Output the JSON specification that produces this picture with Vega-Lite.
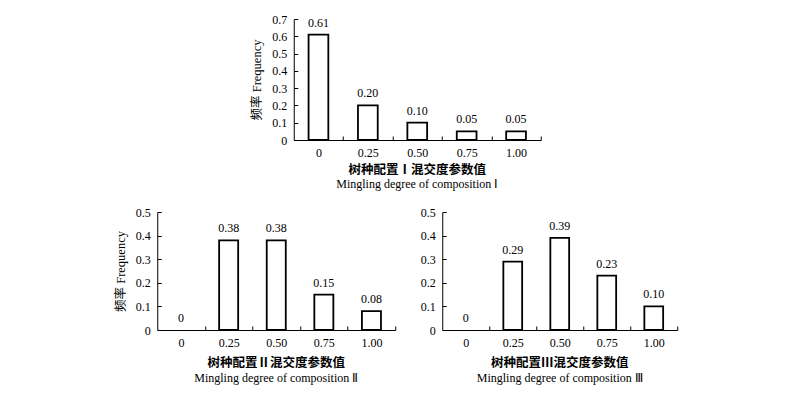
{
  "$schema": "https://vega.github.io/schema/vega-lite/v6.json",
  "background": "white",
  "padding": {"left": 114, "top": 13, "right": 5, "bottom": 5},
  "config": {
    "font": "Liberation Serif",
    "view": {"stroke": null},
    "axis": {"domainColor": "black", "tickColor": "black", "labelColor": "black", "titleColor": "black", "labelFont": "Liberation Serif", "labelFontSize": 12, "tickSize": -4, "grid": false, "labelPadding": 11, "domainWidth": 1, "tickWidth": 1},
    "title": {"orient": "bottom", "anchor": "middle", "font": "Noto Sans CJK SC", "fontSize": 12.5, "fontWeight": "bold", "color": "black", "subtitleFont": "Liberation Serif", "subtitleFontSize": 12, "subtitleColor": "black", "subtitlePadding": 2, "offset": 6}
  },
  "datasets": {
    "p1": [
      {"degree": "0", "freq": 0.61, "lab": "0.61"},
      {"degree": "0.25", "freq": 0.20, "lab": "0.20"},
      {"degree": "0.50", "freq": 0.10, "lab": "0.10"},
      {"degree": "0.75", "freq": 0.05, "lab": "0.05"},
      {"degree": "1.00", "freq": 0.05, "lab": "0.05"}
    ],
    "p2": [
      {"degree": "0", "freq": 0, "lab": "0"},
      {"degree": "0.25", "freq": 0.38, "lab": "0.38"},
      {"degree": "0.50", "freq": 0.38, "lab": "0.38"},
      {"degree": "0.75", "freq": 0.15, "lab": "0.15"},
      {"degree": "1.00", "freq": 0.08, "lab": "0.08"}
    ],
    "p3": [
      {"degree": "0", "freq": 0, "lab": "0"},
      {"degree": "0.25", "freq": 0.29, "lab": "0.29"},
      {"degree": "0.50", "freq": 0.39, "lab": "0.39"},
      {"degree": "0.75", "freq": 0.23, "lab": "0.23"},
      {"degree": "1.00", "freq": 0.10, "lab": "0.10"}
    ]
  },
  "spacing": 16,
  "bounds": "full",
  "center": true,
  "vconcat": [
    {
      "width": 247, "height": 121,
      "data": {"name": "p1"},
      "title": {"text": "树种配置Ⅰ混交度参数值", "subtitle": "Mingling degree of composition  Ⅰ"},
      "encoding": {
        "x": {"field": "degree", "type": "ordinal", "sort": null, "scale": {"domain": ["0", "0.25", "0.50", "0.75", "1.00"], "paddingInner": 0.6, "paddingOuter": 0.3}, "axis": {"title": null, "labelAngle": 0, "tickOffset": 24.7, "labelOffset": -24.7}},
        "y": {"field": "freq", "type": "quantitative", "scale": {"domain": [0, 0.7], "nice": false}, "axis": {"values": [0, 0.1, 0.2, 0.3, 0.4, 0.5, 0.6, 0.7], "labelExpr": "datum.value == 0 ? '0' : format(datum.value, '.1f')", "title": "频率 Frequency", "titleFont": "Liberation Serif, Noto Sans CJK SC", "titleFontSize": 12.5, "titleFontWeight": "normal", "titlePadding": 8}}
      },
      "layer": [
        {"transform": [{"filter": "datum.freq > 0"}], "mark": {"type": "bar", "fill": "white", "stroke": "black", "strokeWidth": 1.8}},
        {"mark": {"type": "text", "baseline": "bottom", "dy": -5, "fontSize": 12, "font": "Liberation Serif", "fill": "black"}, "encoding": {"text": {"field": "lab"}}}
      ]
    },
    {
      "hconcat": [
        {
          "width": 238, "height": 118,
          "data": {"name": "p2"},
          "title": {"text": "树种配置Ⅱ混交度参数值", "subtitle": "Mingling degree of composition  Ⅱ", "offset": 9, "subtitlePadding": 3},
          "encoding": {
            "x": {"field": "degree", "type": "ordinal", "sort": null, "scale": {"domain": ["0", "0.25", "0.50", "0.75", "1.00"], "paddingInner": 0.6, "paddingOuter": 0.3}, "axis": {"title": null, "labelAngle": 0, "tickOffset": 23.8, "labelOffset": -23.8}},
            "y": {"field": "freq", "type": "quantitative", "scale": {"domain": [0, 0.5], "nice": false}, "axis": {"values": [0, 0.1, 0.2, 0.3, 0.4, 0.5], "labelExpr": "datum.value == 0 ? '0' : format(datum.value, '.1f')", "title": "频率 Frequency", "titleFont": "Liberation Serif, Noto Sans CJK SC", "titleFontSize": 12.5, "titleFontWeight": "normal", "titlePadding": 8}}
          },
          "layer": [
            {"transform": [{"filter": "datum.freq > 0"}], "mark": {"type": "bar", "fill": "white", "stroke": "black", "strokeWidth": 1.8}},
            {"mark": {"type": "text", "baseline": "bottom", "dy": -5, "fontSize": 12, "font": "Liberation Serif", "fill": "black"}, "encoding": {"text": {"field": "lab"}}}
          ]
        },
        {
          "width": 235, "height": 118,
          "data": {"name": "p3"},
          "title": {"text": "树种配置Ⅲ混交度参数值", "subtitle": "Mingling degree of composition  Ⅲ", "offset": 9, "subtitlePadding": 3},
          "encoding": {
            "x": {"field": "degree", "type": "ordinal", "sort": null, "scale": {"domain": ["0", "0.25", "0.50", "0.75", "1.00"], "paddingInner": 0.6, "paddingOuter": 0.3}, "axis": {"title": null, "labelAngle": 0, "tickOffset": 23.5, "labelOffset": -23.5}},
            "y": {"field": "freq", "type": "quantitative", "scale": {"domain": [0, 0.5], "nice": false}, "axis": {"values": [0, 0.1, 0.2, 0.3, 0.4, 0.5], "labelExpr": "datum.value == 0 ? '0' : format(datum.value, '.1f')", "title": null}}
          },
          "layer": [
            {"transform": [{"filter": "datum.freq > 0"}], "mark": {"type": "bar", "fill": "white", "stroke": "black", "strokeWidth": 1.8}},
            {"mark": {"type": "text", "baseline": "bottom", "dy": -5, "fontSize": 12, "font": "Liberation Serif", "fill": "black"}, "encoding": {"text": {"field": "lab"}}}
          ]
        }
      ],
      "spacing": 47,
      "bounds": "flush"
    }
  ]
}
